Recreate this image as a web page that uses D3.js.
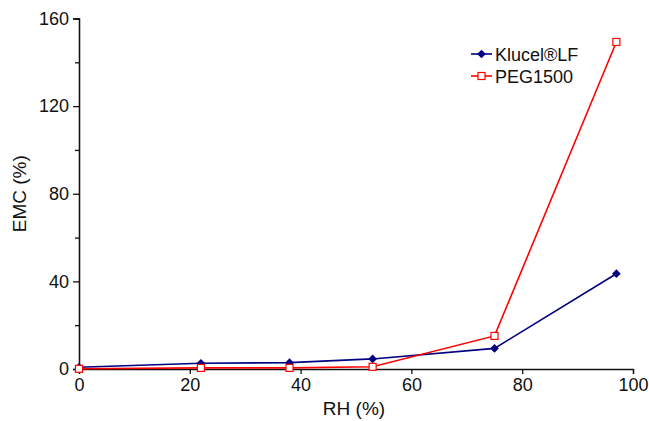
<!DOCTYPE html>
<html>
<head>
<meta charset="utf-8">
<script src="https://d3js.org/d3.v7.min.js"></script>
<style>
body { margin: 0; background: #fff; }
svg text { font-family: "Liberation Sans", Arial, sans-serif; fill: #111; }
</style>
</head>
<body>
<script>
// relative humidity (%) and equilibrium moisture content (%)
var rh = [0, 22, 38, 53, 75, 97];
var klucel = [0.8, 2.6, 2.9, 4.6, 9.4, 43.5];
var peg = [0.1, 0.5, 0.5, 1.0, 15.1, 149.3];
var seriesNames = ["Klucel\u00AELF", "PEG1500"];
var yTicks = [0, 40, 80, 120, 160];
var xTicks = [0, 20, 40, 60, 80, 100];

var W = 649, H = 421;
var margin = {top: 18.5, right: 16, bottom: 52, left: 79};

var svg = d3.select("body").append("svg")
    .attr("width", W).attr("height", H);

var x = d3.scaleLinear().domain([0, 100]).range([margin.left, W - margin.right]);
var y = d3.scaleLinear().domain([0, 160]).range([H - margin.bottom, margin.top]);

// y axis: major ticks plus minor ticks between
var yAxis = svg.append("g").attr("transform", "translate(" + margin.left + ",0)");
yAxis.call(d3.axisLeft(y).tickValues(d3.range(20, 160, 40)).tickSize(4).tickFormat(""));
yAxis.append("g").call(d3.axisLeft(y).tickValues(yTicks).tickSize(6).tickPadding(4));
yAxis.selectAll("text").style("font-size", "18px");
yAxis.selectAll("path, line").attr("stroke", "#111").attr("stroke-width", 1.3);

var xAxis = svg.append("g").attr("transform", "translate(0," + y(0) + ")")
    .call(d3.axisBottom(x).tickValues(xTicks).tickSize(5).tickPadding(4));
xAxis.selectAll("text").style("font-size", "18px");
xAxis.selectAll("path, line").attr("stroke", "#111").attr("stroke-width", 1.3);

svg.append("text")
    .attr("transform", "translate(26," + (margin.top + (H - margin.bottom - margin.top) / 2) + ") rotate(-90)")
    .attr("text-anchor", "middle")
    .style("font-size", "19px")
    .text("EMC (%)");

svg.append("text")
    .attr("x", 354)
    .attr("y", 415)
    .attr("text-anchor", "middle")
    .style("font-size", "19px")
    .text("RH (%)");

var line = d3.line().x(function(d) { return x(d[0]); }).y(function(d) { return y(d[1]); });

var klucelData = rh.map(function(v, i) { return [v, klucel[i]]; });
var pegData = rh.map(function(v, i) { return [v, peg[i]]; });

svg.append("path").datum(klucelData)
    .attr("d", line).attr("fill", "none").attr("stroke", "#000080").attr("stroke-width", 1.6);
svg.append("path").datum(pegData)
    .attr("d", line).attr("fill", "none").attr("stroke", "#ff0000").attr("stroke-width", 1.6);

var diamond = d3.symbol().type(d3.symbolSquare).size(38);

svg.selectAll(".kpt").data(klucelData).enter().append("path")
    .attr("class", "kpt")
    .attr("transform", function(d) { return "translate(" + x(d[0]) + "," + y(d[1]) + ") rotate(45)"; })
    .attr("d", diamond)
    .attr("fill", "#000080");

svg.selectAll(".ppt").data(pegData).enter().append("rect")
    .attr("class", "ppt")
    .attr("x", function(d) { return x(d[0]) - 3.5; })
    .attr("y", function(d) { return y(d[1]) - 3.5; })
    .attr("width", 7).attr("height", 7)
    .attr("fill", "#fff").attr("stroke", "#ff0000").attr("stroke-width", 1.2);

// legend
var legend = svg.append("g").attr("transform", "translate(471,54)");
var colors = ["#000080", "#ff0000"];
seriesNames.forEach(function(name, i) {
  var g = legend.append("g").attr("transform", "translate(0," + (i * 22) + ")");
  g.append("line").attr("x1", 0).attr("x2", 21).attr("y1", 0).attr("y2", 0)
    .attr("stroke", colors[i]).attr("stroke-width", 1.6);
  if (i === 0) {
    g.append("path").attr("transform", "translate(10.5,0) rotate(45)")
      .attr("d", diamond).attr("fill", colors[i]);
  } else {
    g.append("rect").attr("x", 7).attr("y", -3.5).attr("width", 7).attr("height", 7)
      .attr("fill", "#fff").attr("stroke", colors[i]).attr("stroke-width", 1.2);
  }
  g.append("text").attr("x", 24).attr("y", 6.5).style("font-size", "18px").text(name);
});
</script>
</body>
</html>
